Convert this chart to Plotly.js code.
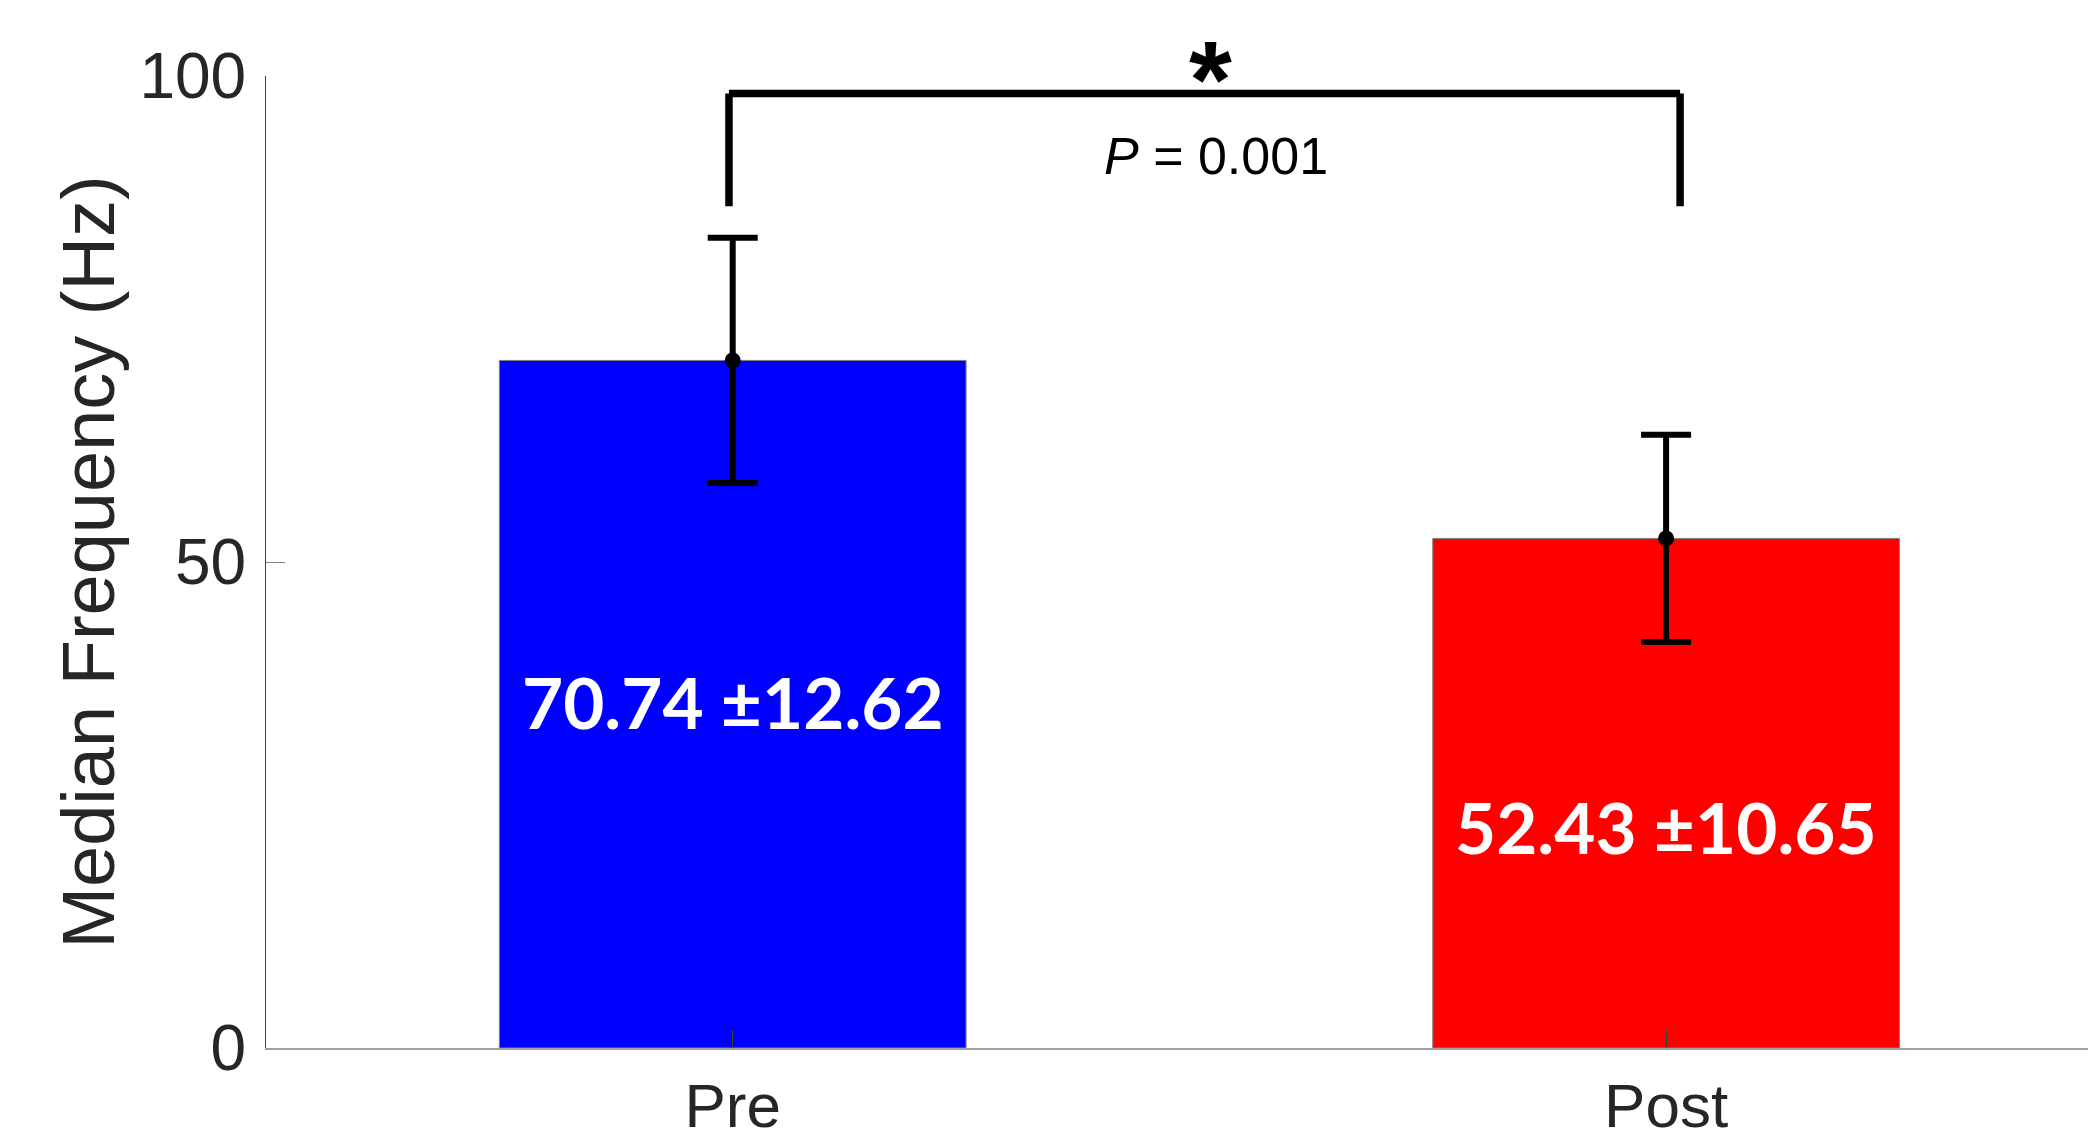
<!DOCTYPE html>
<html>
<head>
<meta charset="utf-8">
<script src="https://cdn.plot.ly/plotly-3.0.1.min.js"></script>
<style>html,body{margin:0;padding:0;background:#fff;}#chart{width:2088px;height:1136px;}</style>
</head>
<body>
<div id="chart"></div>
<script>
const categories = ["Pre", "Post"];
const means = [70.74, 52.43];
const sds = [12.62, 10.65];
const barColors = ["#0000ff", "#ff0000"];
const barLabels = ["70.74 ±12.62", "52.43 ±10.65"];
const labelY = [35.6, 22.8];
const yTicks = [0, 50, 100];
const yRange = [0, 100];
const bracketEnds = [-0.004, 1.015];
const bracketTop = 98.2;
const bracketBottom = 86.6;
const pText = "<i>P</i> = 0.001";
const pTextX = 0.518;
const pTextY = 91.8;
const starX = 0.512;
const starY = 106.3;

const xs = categories.map((c, i) => i);

const traces = [
  {
    type: "bar",
    x: xs,
    y: means,
    width: 0.5,
    marker: { color: barColors, line: { color: "#808080", width: 1 } },
    hoverinfo: "skip",
    showlegend: false
  },
  {
    type: "scatter",
    mode: "markers",
    x: xs,
    y: means,
    marker: { color: "#000", size: 16 },
    error_y: { type: "data", array: sds, visible: true, color: "#000", thickness: 6, width: 25 },
    hoverinfo: "skip",
    showlegend: false
  }
];

const shapes = [
  { type: "line", xref: "x", yref: "y", x0: bracketEnds[0], x1: bracketEnds[0], y0: bracketBottom, y1: bracketTop, line: { color: "#000", width: 7.5 } },
  { type: "line", xref: "x", yref: "y", x0: bracketEnds[1], x1: bracketEnds[1], y0: bracketBottom, y1: bracketTop, line: { color: "#000", width: 7.5 } },
  { type: "line", xref: "x", yref: "y", x0: bracketEnds[0], x1: bracketEnds[1], y0: bracketTop, y1: bracketTop, line: { color: "#000", width: 7.5 } }
];

const annotations = barLabels.map((t, i) => ({
  x: xs[i], y: labelY[i], xref: "x", yref: "y", text: "<b>" + t + "</b>", showarrow: false,
  font: { family: "Lato, 'Open Sans', sans-serif", size: 71, color: "#ffffff" }
}));
annotations.push({
  x: pTextX, y: pTextY, xref: "x", yref: "y", text: pText, showarrow: false,
  font: { family: "'Liberation Sans', Arial, sans-serif", size: 52, color: "#000" }
});
annotations.push({
  x: starX, y: (starY - yRange[0]) / (yRange[1] - yRange[0]), xref: "x", yref: "paper", text: "<b>*</b>", showarrow: false,
  font: { family: "'Liberation Sans', Arial, sans-serif", size: 110, color: "#000" }
});

const layout = {
  width: 2088,
  height: 1136,
  paper_bgcolor: "#fff",
  plot_bgcolor: "#fff",
  margin: { l: 266, r: 0, t: 76, b: 88, pad: 0 },
  font: { family: "'Liberation Sans', Arial, sans-serif", color: "#262626" },
  xaxis: {
    range: [-0.5, 1.452],
    tickvals: xs,
    ticktext: categories,
    ticks: "inside",
    ticklen: 18,
    tickcolor: "#404040",
    tickwidth: 1,
    showline: true,
    linecolor: "#a0a0a0",
    linewidth: 2,
    showgrid: false,
    zeroline: false,
    tickfont: { size: 62, color: "#262626" },
    ticklabelstandoff: 3,
    fixedrange: true
  },
  yaxis: {
    range: yRange,
    tickvals: yTicks,
    ticktext: yTicks.map(String),
    ticks: "inside",
    ticklen: 19,
    tickcolor: "#808080",
    tickwidth: 1,
    showline: true,
    linecolor: "#404040",
    linewidth: 1,
    showgrid: false,
    zeroline: false,
    tickfont: { size: 64, color: "#262626" },
    ticklabelstandoff: 6,
    title: { text: "Median Frequency (Hz)", font: { size: 74, color: "#262626" }, standoff: 0 },
    fixedrange: true
  },
  shapes: shapes,
  annotations: annotations,
  showlegend: false
};

Plotly.newPlot("chart", traces, layout, { displayModeBar: false, staticPlot: true });
</script>
</body>
</html>
